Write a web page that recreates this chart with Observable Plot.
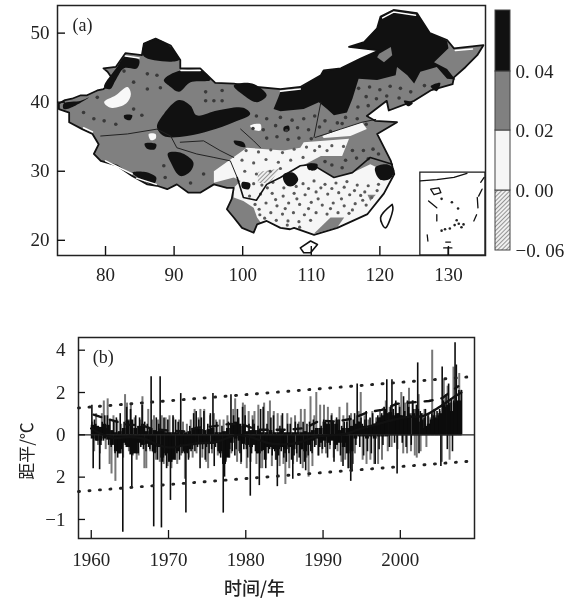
<!DOCTYPE html>
<html><head><meta charset="utf-8">
<script src="https://cdn.jsdelivr.net/npm/d3@7"></script>
<script src="https://cdn.jsdelivr.net/npm/@observablehq/plot@0.6"></script>
<style>
html,body{margin:0;padding:0;background:#fff}
#page{position:relative;width:577px;height:609px;overflow:hidden}
#page svg{position:absolute;left:0;background:transparent;max-width:none;filter:blur(0.45px)}
</style></head><body><div id="page"></div>
<script>
// ---------- panel (a): map outlines, [lon, lat]
const chinaOutline=[[73.2,39.8],[74.1,40.3],[75.1,40.5],[76.4,41],[77.3,41],[78.8,41.7],[79.7,41.9],[81,42.9],[81,43.4],[80.3,44.4],[79.7,44.9],[81.5,45.1],[82.9,47.1],[85.3,46.8],[85.6,48.5],[87.3,49.2],[89.5,48.2],[90.9,46.1],[90.9,44.9],[93.8,44.9],[96,42.8],[98.7,42.7],[102.1,42.2],[105.5,41.9],[108.4,42.2],[111.4,43.9],[111.8,44.6],[114.3,44.9],[117.2,46.3],[119.9,47.5],[115.5,48],[117.7,48.7],[119.6,50.7],[120.1,52.4],[122,53.35],[125.4,52.9],[127.3,50],[129.8,49],[130.8,47.8],[135.1,48.25],[134.2,46.8],[132.5,45.1],[130.8,43.6],[130.6,42.6],[127.4,41.7],[125,40.2],[121.3,38.8],[121,40.2],[118.1,38],[119.3,37.3],[122.5,37.1],[119.6,35.4],[121.6,31.5],[122.1,29.6],[120.6,26.8],[118.2,23.8],[113.8,21.8],[110.4,20.8],[107.5,21.8],[106.9,21.6],[105.5,21.8],[103.5,22.8],[102.1,22.3],[101.6,21.1],[99.9,21.8],[98.7,23.3],[97.7,24.5],[98.4,26],[98.7,27.6],[97.7,27.6],[95.8,28.1],[93.8,26.9],[92.1,26.9],[90.4,28.1],[89,27.4],[87.5,27.9],[86.1,28.1],[83.9,29.3],[81.7,30.8],[79.3,31.5],[78.3,32.5],[79,33.9],[78.1,35.4],[76.6,36.1],[74.7,37.1],[74.7,38.5],[73.2,39],[73.2,39.8]];
const hainan=[[108.4,18.9],[109.9,19.9],[110.9,19.4],[109.9,18.2],[108.9,18.2]];
const taiwan=[[121.8,25.2],[120.1,23.3],[120.8,21.8],[121.9,24.5]];
const lightSouth=[[95.8,28.35],[95.8,30],[98.2,31.7],[100.6,33.4],[106,33],[108.4,33.4],[108.9,34.2],[111.8,34.4],[115.5,34.7],[114.5,32.2],[111.4,32.2],[108.7,30.8],[110.1,31],[113.3,29.1],[116,29.8],[118.6,31],[121.6,29.6],[122,29.4],[120.6,26.8],[118.2,23.8],[113.8,21.8],[110.4,20.8],[107.5,21.8],[106.9,21.6],[105.5,21.8],[103.5,22.8],[102.6,22.6],[102.1,23.3],[101.6,24.7],[100.1,25.7],[98.7,26.2],[98.7,27.6],[99.7,28.6],[98.7,29.1]];
const lightHuai=[[111.6,35.1],[114.3,36.1],[117.4,37.1],[118.1,36.1],[115.7,35.1],[111.8,34.8]];
const whiteSpots=[[[79.8,40],[81.5,41],[83.2,42.2],[83.7,41.2],[83,39.8],[80.8,39.2]],[[86.3,35.4],[87.3,35.4],[87.3,34.7],[86.6,34.5]],[[101.1,36.6],[102.6,36.8],[102.6,35.9],[101.6,36]]];
const grayPatches=[[[110.4,21],[112.8,23.3],[114.8,23.3],[113.8,21.9],[110.9,21.1]],[[118.2,26.6],[119.4,26.6],[118.6,25.7]],[[119.9,47],[121.6,48],[121.8,46.8],[120.6,45.8],[119.6,46.5]]];
const hatchSpot=[[102.2,29.9],[105.4,30.4],[104,28.3],[102.2,28.3]];
const northStrip=[[105.5,41.5],[108.4,42.1],[111.4,43.9],[111.8,44.5],[114.3,44.9],[117.2,46.3],[119.9,47.5],[115.5,48],[117.7,48.7],[119.6,50.7],[120.1,52.4],[122,53.3],[125.4,52.8],[127.3,50],[129.8,48.9],[130,47.8],[127.9,45.8],[129.8,44.8],[131,43.3],[129.8,43.4],[128.3,45.1],[125.9,44.4],[125,42.7],[124,43.9],[122.5,45.1],[122.3,43.9],[119.6,43.2],[116.9,43.4],[116,40.5],[115.2,38.5],[113.3,38.1],[112.3,39],[111.1,40],[108.9,39],[105.5,38.7],[104.5,39],[105.2,40.7]];
const blackBlobs=[
 [[79.8,42.2],[81.7,45.1],[82.9,46.6],[84.9,46.1],[84.6,44.9],[82.7,44.9],[81.5,43.2],[80.7,41.9]],
 [[85.6,48.3],[87.3,49.1],[89.5,48],[90.7,46.1],[85.6,46.6]],
 [[88.5,43.2],[90.9,44.6],[94.3,44.4],[95.3,43.2],[92.4,42.9],[90.7,41.5],[89.5,42.2]],
 [[87.5,36.4],[88.5,38.3],[90.7,40.3],[92.4,39.5],[93.3,38.1],[96.3,38.8],[100.1,39.2],[101.1,38.3],[98.7,37.1],[95.3,35.9],[91.9,35.1],[88.5,35.1]],
 [[98.7,42.4],[101.4,42.7],[103.5,41],[102.1,40],[99.9,41.2]],
 [[82.7,38.1],[83.9,38.1],[83.6,37.4],[82.8,37.6]],
 [[85.7,34],[87.4,33.9],[87.2,33.2],[86,33.3]],
 [[89.1,32.6],[90.9,32.7],[92.8,31.3],[92.4,30],[90.9,29.3],[89.5,31.3]],
 [[83.9,29.8],[85.8,29.9],[87.4,29.1],[87,28.1],[85.3,28.8]],
 [[73.9,39.8],[76.4,40.2],[77.6,40.7],[75.6,39.5],[73.9,39]],
 [[106,29.6],[107.4,29.8],[108.1,28.8],[107.4,27.9],[106.5,27.9],[105.9,28.8]],
 [[99.9,28.4],[101.1,28.2],[100.9,27.4],[99.9,27.6]],
 [[98.7,34.4],[100.1,34.2],[100.4,33.5],[98.9,33.9]],
 [[106,36.4],[106.7,36.6],[106.8,35.9],[106,35.8]],
 [[119.3,30.5],[121,31],[122.1,30.2],[121.5,28.9],[120,28.8]],
 [[109.4,31],[110.9,31],[110.7,30.2],[109.6,30.2]],
 [[123.5,40.2],[124.8,39.9],[124.1,39.4]],
 [[127.4,42.3],[128.8,42.8],[128.3,41.6]]
];
const insetCoast=[[125.9,28.6],[128.3,28.8],[130.8,29.1],[132.7,29.7]];
const insetHainan=[[127.4,27.4],[128.6,27.6],[128.9,26.9],[127.9,26.6],[127.4,27.4]];
const boundaryLines=[
 [[79.3,35.1],[83.2,35.4],[87.5,36.1],[89.5,35.1],[90.4,33.4],[93.3,32.5],[95.8,32],[98.2,31.5],[99.2,29.1]],
 [[90.9,34.2],[94.3,34.4],[96.7,33],[98.7,32]],
 [[99.7,36.1],[101.6,34.4],[102.6,33.4]],
 [[111.4,40],[110.4,34.9]],
 [[110.6,34.9],[114.3,36.1],[117.4,37.1],[119.4,37.5]]
];
const yangtze=[[99.2,29.1],[100.1,26.2],[102,25.8],[103.5,28.1],[105.5,29.1],[108.4,30.8],[110.1,31],[113.3,29.1],[116,29.8],[118.6,32],[121.8,31]];
const whiteHalo=[[[82.9,46.7],[84.9,46.4]],[[91,44.6],[93.8,44.6]],[[105.5,41.6],[108.4,41.9]],[[120.4,52.2],[122,53.05],[125.2,52.6]],[[80,31.5],[83.9,29.6]],[[84.5,29],[87.4,28.1]],[[76.8,36.3],[78.1,35.7]],[[131,47.5],[133.5,47.7]]];
const insetDashes=[
 [[127.1,25.7],[128.3,24.7]],[[128.3,23.7],[128.3,22.8]],[[126.9,20.8],[127,19.9]],[[134.2,26.2],[134.3,24.7]],[[134.1,23.7],[133.7,22.8]],[[134.9,27.4],[134.4,26.4]],[[135.2,29.1],[134.7,28.4]],
 [[129.3,18.9],[130.5,18.9]],[[129.95,18.9],[129.95,17.9]],[[129.6,19.75],[130.3,19.75]]
];
const insetIslands=[[129,26],[130.5,25.5],[131.4,24.6],[131.9,21.9],[129,21.4],[130.2,21.7],[129.5,21.6],[132.2,22.3],[131.2,22.9],[131.5,22.4],[130.9,22.2]];
const lightDots=[[100.5,33],[102.3,32.8],[104.1,33.1],[105.8,32.7],[107.5,33.2],[109.3,33.5],[111.2,33.6],[113,33.7],[114.7,33.6],[99.9,31.6],[101.6,31.2],[103.4,31.7],[105.2,31.3],[107,31.6],[108.8,32],[110.5,33],[112.3,33],[100.3,30],[102,29.6],[104,30],[105.5,30.4],[102.8,28],[104.4,28.4],[108.8,28.2],[110.4,28.6],[112,28.1],[113.6,28.3],[115.2,28.5],[116.7,28],[118.3,27.9],[119.8,28.1],[101,26.4],[102.6,26.7],[104.3,26.8],[105.9,26.4],[107.5,26.8],[109.1,26.6],[110.7,27],[112.4,26.7],[114,26.9],[115.6,26.6],[117.2,26.5],[118.8,26.2],[101.8,25.2],[103.4,25.4],[105,25],[106.7,25.4],[108.3,25.2],[110,25.5],[111.6,25.1],[113.2,25.4],[114.8,25],[116.4,25.3],[118,25.1],[102.5,23.7],[104.1,24],[105.8,23.8],[107.4,24],[109,23.7],[110.7,24],[112.3,23.8],[113.9,24],[115.5,23.9],[103.2,23.2],[104.9,22.9],[106.6,22.8],[108.2,22.7],[109.9,22.9],[103.6,27.6],[106,27.6],[107.8,27.8],[109.6,27.5],[111.4,27.6],[113,27.5],[114.8,27.7],[116.3,27.2],[117.8,27],[101.6,28.2],[102.4,24.5],[104.8,25.9],[106.2,24.6],[107.9,26],[109.6,24.6],[111,26],[112.8,24.6],[114.4,26],[116,24.4],[117.5,25.8],[119.6,27.2],[108.3,21.9],[106.5,22.2]];
const grayDots=[[84.1,42.9],[86.1,44.1],[87.5,43.9],[86.1,41.9],[88,42.1],[84.1,39],[78.8,40.7],[76.8,38.5],[78.3,37.6],[79.8,37.3],[81.5,36.8],[85.3,38.1],[82.7,44.5],[94.6,41.5],[94.6,40.2],[97,41.7],[97,40.2],[95.8,40.2],[88.5,30.8],[88.7,29.1],[92.4,28.3],[94.3,29.6],[102,38],[103.5,37.6],[105.5,37.8],[107.2,37.4],[108.9,37.6],[110.5,38],[112,37.3],[113.8,37],[101.5,36.2],[103,36],[104.8,36.6],[106.4,35.9],[108,36.3],[109.6,36],[111.2,36.4],[112.8,35.8],[114.5,36.9],[103.5,34.8],[105,35],[106.6,34.6],[108.2,34.8],[110,34.7],[116.9,42],[118.5,42.2],[120,41.8],[121.5,42.3],[123,42],[124.5,41.5],[126.5,42.4],[118,40.8],[119.5,40.5],[121,40.9],[122.8,40.6],[116.8,39.3],[118.3,39.5],[115,37.8],[116.7,37.6],[118,36.8],[116,33],[117.6,33],[119,33.2],[115,31.6],[116.6,31.9],[118.3,31.8],[119.8,32.5],[113,30.9],[114.5,30.5],[112,31.4]];
const legendLevels=[-0.06,0,0.02,0.04,0.07];
const legendLabels=["−0. 06","0. 00","0. 02","0. 04"];
const lonTicks=[80,90,100,110,120,130];
const latTicks=[20,30,40,50];
// ---------- panel (b)
const blackBars=[[1.4,-1.6,0.7,0.5,-0.3,0.4],[-1.65,-0.5,0.6,-0.3,0.9,0.3],[0.9,-0.5,0.7,-0.6,-0.4,0.6],[-0.9,0.8,-1.1,-0.8,1.0,-0.7],[-4.6,0.6,-0.5,1.3,0.7,-0.6],[1.2,-2.5,-0.9,-0.8,0.9,-0.9],[-0.9,0.8,-0.6,1.4,-0.7,0.6],[-0.8,0.5,-0.6,-0.7,2.75,-0.8],[-4.35,-0.9,0.8,-1.2,0.5,2.75],[-4.4,-1.3,0.8,-1.0,-1.6,0.7],[-1.2,-3.1,-1.3,0.9,-1.1,0.7],[-0.9,0.6,-1.2,1.95,-0.9,-0.8],[-0.9,-3.7,-0.9,-1.2,0.4,-0.8],[-0.7,1.0,-0.8,1.1,-0.6,0.7],[-1.6,0.8,-0.7,1.1,-1.2,-0.6],[0.5,-0.9,1.0,-0.7,1.95,-1.5],[-0.6,0.6,-0.8,-0.9,-1.1,0.4],[-3.7,-2.0,-1.3,-1.0,0.6,-0.7],[1.9,-0.8,0.9,-1.0,-0.7,1.2],[0.8,-0.9,-1.3,1.3,-0.7,0.9],[-0.7,-1.1,0.5,-2.9,-0.9,0.7],[0.5,-0.8,-0.9,0.4,-2.4,1.2],[-0.8,1.3,-1.2,-1.6,0.5,-0.9],[-0.7,0.8,-1.0,0.9,-0.8,-1.2],[-2.45,-1.0,0.4,-0.8,1.0,-1.1],[-0.9,-1.3,0.5,-0.9,0.5,-1.2],[-2.1,-1.0,0.6,-0.9,0.5,-1.1],[-1.4,-0.7,0.6,-1.3,-1.7,0.5],[-1.0,0.6,-0.8,-0.9,0.7,-0.6],[-0.5,0.3,-1.0,-0.6,0.4,-0.7],[0.7,-0.6,0.5,-1.1,0.6,-0.5],[0.9,0.6,-1.3,-0.7,0.8,0.7],[0.7,-1.0,0.4,-1.5,0.6,-0.4],[0.6,-1.6,0.9,-2.2,-1.7,0.7],[1.0,-0.5,2.4,0.6,-0.6,0.8],[0.5,-1.0,0.7,1.1,-0.8,0.4],[0.8,-0.9,1.0,0.5,-1.4,0.6],[0.9,-0.7,0.8,1.0,-0.5,1.3],[1.2,2.6,1.0,-0.6,1.3,2.6],[1.2,-0.4,1.6,-1.85,1.0,1.3],[0.9,-0.4,1.8,1.1,-0.6,1.6],[1.3,1.0,-0.5,1.6,1.2,0.8],[1.4,3.4,-0.9,1.1,1.0,0.7],[0.8,1.2,0.4,0.9,0.5,0.7],[1.0,0.9,1.2,0.8,1.1,0.9],[1.2,-1.5,3.2,1.6,1.4,1.9],[-0.7,2.4,1.5,1.7,-0.8,1.6],[4.35,3.3,1.6,2.1,1.5,2.1]];
const grayBars=[[0.6,-0.8,1.0,-0.5],[-0.9,1.0,1.6,-0.7],[1.7,-1.4,-1.85,0.9],[-2.2,0.7,-0.9,0.5],[-1.1,1.9,1.5,-0.8],[1.4,-1.0,0.8,-1.2],[-1.0,0.7,1.8,-1.6],[-1.6,1.2,-0.8,0.7],[0.9,-1.2,0.7,-1.3],[0.9,-1.4,0.8,-1.5],[0.9,-1.6,0.8,-1.2],[-1.4,0.7,-1.0,0.6],[-2.1,0.5,-1.1,0.7],[-1.1,1.2,-0.9,0.8],[1.2,-1.1,1.2,-1.3],[-1.6,0.9,-0.9,1.0],[0.7,-1.0,0.7,-0.9],[0.7,-1.2,0.9,-1.1],[-0.9,1.2,1.7,-1.3],[-0.8,-1.4,1.5,1.4],[-1.6,1.1,-1.3,0.9],[1.1,-1.4,1.4,-1.6],[-1.6,1.5,-1.2,1.1],[1.6,-1.5,1.1,-1.2],[1.0,-1.5,0.9,-1.4],[-2.35,1.0,-1.6,0.8],[-1.4,0.9,-1.3,0.6],[1.2,-1.6,1.2,-1.1],[-2.0,1.8,-1.5,0.9],[2.0,-1.0,1.4,-0.9],[1.4,-0.9,1.3,-0.7],[1.0,-1.1,0.7,-0.8],[1.3,-1.3,0.9,-1.2],[1.5,-1.6,1.0,-1.4],[-0.9,0.9,1.1,2.0],[-1.2,0.9,-1.4,0.7],[-1.2,1.1,-1.4,0.8],[-1.4,1.1,-1.2,1.3],[1.6,-0.8,1.3,-0.6],[1.0,1.5,-0.7,1.4],[2.0,-0.9,1.5,-0.9],[2.2,-0.8,1.6,-1.0],[-1.1,1.9,-0.8,1.0],[1.2,-0.6,1.0,0.8],[4.0,1.2,0.9,1.0],[1.1,-1.3,2.6,1.3],[2.3,-1.2,1.5,3.2],[1.8,1.3,2.9,2.1]];
// dense dark mass of short bars, half-year steps
const coreNeg=[[-.2,-.3],[-.3,-.2],[-.25,-.5],[-.8,-.9],[-.4,-.6],[-.95,-.9],[-.4,-.5],[-.45,-.5],[-.85,-.6],[-1.1,-.9],[-1.3,-1.2],[-.8,-.5],[-.85,-.7],[-.45,-.4],[-.45,-.4],[-.4,-.45],[-.4,-.8],[-1.4,-1.1],[-.4,-.2],[-.3,-.45],[-.5,-.6],[-.5,-.9],[-.75,-.6],[-.6,-.7],[-.7,-.6],[-.7,-.6],[-.7,-.5],[-.7,-.8],[-.5,-.3],[-.2,-.4],[-.3,-.4],[-.3,-.5],[-.4,-.6],[-.9,-.8],[-.2,-.1],[-.1,-.2],[-.1,-.2],[-.1,-.1],[-.1,-.05],[-.05,-.05],[-.05,-.05],[-.05,-.05],[-.05,-.05],[-.05,-.05],[-.05,-.05],[-.05,-.05],[-.05,-.05],[-.05,-.05]];
const corePos=[[.45,.4],[.35,.5],[.45,.2],[.1,.15],[.3,.65],[.7,.3],[.4,.5],[.15,.3],[.2,.15],[.2,.1],[.1,.1],[.1,.2],[.1,.15],[.3,.35],[.25,.2],[.25,.3],[.1,.1],[.15,.3],[.5,.6],[.5,.4],[.15,.2],[.2,.2],[.1,.1],[.2,.1],[.1,.2],[.1,.1],[.1,.1],[.1,.15],[.1,.2],[.3,.3],[.6,.5],[.6,.5],[.2,.3],[.3,.4],[.5,.6],[.4,.3],[.4,.5],[.8,.9],[1.0,1.05],[.9,1.0],[.9,.8],[.9,1.0],[1.2,.6],[.3,.5],[.7,.75],[1.0,1.3],[1.4,1.1],[1.5,1.6]];
const firstYear=1960;
const smoothCurve=[[1960,0.3],[1961,0.1],[1962,-0.05],[1963,-0.15],[1965,-0.1],[1967,-0.2],[1968.5,-0.45],[1970,-0.6],[1972,-0.5],[1974,-0.4],[1976,-0.35],[1978,-0.1],[1979,0],[1981,-0.15],[1983,-0.4],[1985,-0.45],[1987,-0.35],[1989,-0.1],[1991,-0.02],[1993,0.05],[1995,0.3],[1997,0.5],[1999,0.7],[2001,0.85],[2003,0.9],[2005,1.3],[2007,1.8],[2007.9,2.0]];
const dashedTrend=[[1960.3,0.95],[1962.2,0.74],[1964.8,0.47],[1966.4,0.47],[1967.9,0.27],[1970,0.2],[1972,0.16],[1973.5,0.32],[1975.7,0.4],[1978,0.52],[1979.7,0.47],[1981.5,0.24],[1983.6,0.24],[1985.5,0.24],[1987.7,0.32],[1989.6,0.68],[1991.6,0.63],[1993.8,0.76],[1995.7,1.06],[1997.6,1.18],[1999.6,1.47],[2003.7,1.6],[2005.4,1.73],[2007.5,2.3]];
const upperBound=[[1958.35,1.27],[2009.6,2.76]];
const lowerBound=[[1958.35,-2.68],[2009.6,-1.23]];
const yearTicks=[1960,1970,1980,1990,2000];
const anomalyTicks=[4,2,0,-2,-4];
const anomalyLabels=["4","2","0","2","−1"];

const serif='"Liberation Serif", serif';
const fs=19;
const px=d=>d[0], py=d=>d[1];
const hatchDefs=(id,size)=>()=>{
  const ns="http://www.w3.org/2000/svg";
  const defs=document.createElementNS(ns,"defs");
  const p=document.createElementNS(ns,"pattern");
  p.setAttribute("id",id);p.setAttribute("width",size);p.setAttribute("height",size);
  p.setAttribute("patternUnits","userSpaceOnUse");p.setAttribute("patternTransform","rotate(45)");
  const r=document.createElementNS(ns,"rect");r.setAttribute("width",size);r.setAttribute("height",size);r.setAttribute("fill","#f0f0f0");
  const l=document.createElementNS(ns,"line");l.setAttribute("x1",0);l.setAttribute("y1",0);l.setAttribute("x2",0);l.setAttribute("y2",size);l.setAttribute("stroke","#555");l.setAttribute("stroke-width",1.2);
  p.append(r,l);defs.append(p);return defs;
};
const poly=(pts,fill,extra={})=>Plot.line(pts,{x:px,y:py,fill,stroke:"none",...extra});
const blob=pts=>poly(pts,"#111",{curve:"catmull-rom-closed"});

const mapPlot=Plot.plot({
  width:577,height:290,marginLeft:57,marginRight:92,marginTop:5,marginBottom:35,
  style:{fontFamily:serif,fontSize:fs+"px",color:"#222",background:"transparent"},
  x:{domain:[73,135.4],label:null},y:{domain:[17.8,54],label:null},
  marks:[
    hatchDefs("hatchMap",3),
    poly(chinaOutline,"#808080"),
    poly(lightSouth,"#f6f6f6"),
    poly(lightHuai,"#f6f6f6"),
    ...whiteSpots.map(s=>poly(s,"#f8f8f8",{curve:"catmull-rom-closed"})),
    poly(hatchSpot,"url(#hatchMap)"),
    ...grayPatches.map(s=>poly(s,"#808080")),
    poly(northStrip,"#111"),
    poly(grayPatches[2],"#808080"),
    ...blackBlobs.map(blob),
    Plot.dot(lightDots,{x:px,y:py,r:1.6,fill:"#5a5a5a",stroke:"none"}),
    Plot.dot(grayDots,{x:px,y:py,r:1.8,fill:"#3a3a3a",stroke:"none"}),
    ...boundaryLines.map(l=>Plot.line(l,{x:px,y:py,stroke:"#222",strokeWidth:1})),
    Plot.line(yangtze,{x:px,y:py,stroke:"#111",strokeWidth:1.6}),
    Plot.line(chinaOutline,{x:px,y:py,stroke:"#111",strokeWidth:1.8}),
    ...whiteHalo.map(l=>Plot.line(l,{x:px,y:py,stroke:"#fff",strokeWidth:1.5})),
    Plot.line([...hainan,hainan[0]],{x:px,y:py,stroke:"#111",strokeWidth:1.6,fill:"#fff"}),
    Plot.line([...taiwan,taiwan[0]],{x:px,y:py,stroke:"#111",strokeWidth:1.6,fill:"#fff",curve:"catmull-rom-closed"}),
    Plot.rect([[125.9,135.4,17.8,29.8]],{x1:d=>d[0],x2:d=>d[1],y1:d=>d[2],y2:d=>d[3],fill:"#fff",stroke:"#222",strokeWidth:1.3}),
    Plot.line(insetCoast,{x:px,y:py,stroke:"#111",strokeWidth:1.3}),
    Plot.line(insetHainan,{x:px,y:py,stroke:"#111",strokeWidth:1.3}),
    ...insetDashes.map(l=>Plot.line(l,{x:px,y:py,stroke:"#111",strokeWidth:1.3})),
    Plot.dot(insetIslands,{x:px,y:py,r:1.3,fill:"#222"}),
    Plot.frame({stroke:"#222",strokeWidth:1.5}),
    Plot.axisX({ticks:lonTicks,tickSize:-9,tickPadding:21,tickFormat:d=>String(d),stroke:"#111",fontSize:fs,strokeWidth:1.4}),
    Plot.axisY({ticks:latTicks,tickSize:-8,tickPadding:16,stroke:"#111",fontSize:fs,strokeWidth:1.4}),
    Plot.text([[75.2,51.2]],{x:px,y:py,text:()=>"(a)",textAnchor:"start",fontSize:fs-1})
  ]
});
mapPlot.style.top="0px";

const legendPlot=Plot.plot({
  width:577,height:290,marginLeft:495,marginRight:67,marginTop:10,marginBottom:40,
  style:{fontFamily:serif,fontSize:"19px",color:"#222",background:"transparent"},
  x:{domain:[0,1],axis:null},
  y:{type:"linear",domain:legendLevels,range:[250,190,130,71,10],label:null},
  marks:[
    hatchDefs("hatchLegend",3),
    Plot.rect(d3.pairs(legendLevels),{x1:0,x2:1,y1:d=>d[0],y2:d=>d[1],
      fill:(d,i)=>["url(#hatchLegend)","#f6f6f6","#808080","#111"][i],stroke:"#444",strokeWidth:1}),
    Plot.axisY({anchor:"right",ticks:legendLevels.slice(0,4),tickSize:0,tickPadding:5,
      tickFormat:d=>legendLabels[legendLevels.indexOf(d)],fontSize:19})
  ]
});
legendPlot.style.top="0px";

const blackData=blackBars.flatMap((row,i)=>row.map((v,j)=>({t:firstYear+i+(j+0.5)/row.length,v})));
const grayData=grayBars.flatMap((row,i)=>row.map((v,j)=>({t:firstYear+i+(j+0.5)/row.length,v})));
const coreData=[...coreNeg,...corePos].flatMap((row,k)=>row.map((v,j)=>({a:firstYear+(k%48)+j/2,b:firstYear+(k%48)+(j+1)/2,v})));

const tsPlot=Plot.plot({
  width:577,height:309,marginLeft:78,marginRight:103,marginTop:37,marginBottom:71,
  style:{fontFamily:serif,fontSize:fs+"px",color:"#222",background:"transparent"},
  x:{domain:[1958.35,2009.6],label:null},y:{domain:[-4.9,4.6],label:null},
  marks:[
    Plot.ruleX(grayData,{x:"t",y1:0,y2:"v",stroke:"#777",strokeWidth:2}),
    Plot.ruleX(blackData,{x:"t",y1:0,y2:"v",stroke:"#0c0c0c",strokeWidth:1.6}),
    Plot.rect(coreData,{x1:"a",x2:"b",y1:0,y2:"v",fill:"#0c0c0c",inset:0}),
    Plot.ruleY([0],{stroke:"#222",strokeWidth:1.4}),
    Plot.line(smoothCurve,{x:px,y:py,stroke:"#111",strokeWidth:2.4,curve:"catmull-rom"}),
    Plot.line(dashedTrend,{x:px,y:py,stroke:"#111",strokeWidth:2.4,strokeDasharray:"8,9"}),
    Plot.line(upperBound,{x:px,y:py,stroke:"#222",strokeWidth:2.9,strokeDasharray:"1,9.5",strokeLinecap:"round"}),
    Plot.line(lowerBound,{x:px,y:py,stroke:"#222",strokeWidth:2.9,strokeDasharray:"1,9.5",strokeLinecap:"round"}),
    Plot.frame({stroke:"#222",strokeWidth:1.5}),
    Plot.axisX({ticks:yearTicks,tickSize:-8,tickPadding:22,tickFormat:d=>String(d),stroke:"#111",fontSize:fs,strokeWidth:1.3}),
    Plot.axisY({ticks:anomalyTicks,tickSize:-7,tickPadding:20,tickFormat:d=>anomalyLabels[anomalyTicks.indexOf(d)],stroke:"#111",fontSize:fs,strokeWidth:1.3}),
    Plot.text([[1960.2,3.65]],{x:px,y:py,text:()=>"(b)",textAnchor:"start",fontSize:fs-1}),
    Plot.text(["时间/年"],{frameAnchor:"bottom",dx:-22,dy:56,fontFamily:'"Noto Sans CJK SC"',fontWeight:500,fontSize:18,letterSpacing:"2px"}),
    Plot.text(["距平/℃"],{frameAnchor:"left",textAnchor:"middle",dx:-51,dy:13,rotate:-90,fontFamily:'"Noto Sans CJK SC"',fontWeight:400,fontSize:17})
  ]
});
tsPlot.style.top="300px";

document.getElementById("page").append(mapPlot,legendPlot,tsPlot);
</script></body></html>
